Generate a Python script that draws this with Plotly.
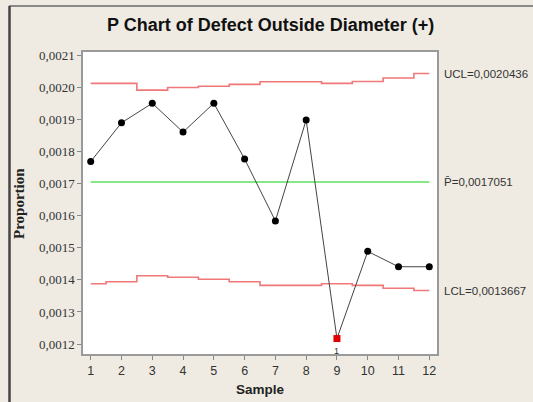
import plotly.graph_objects as go

samples = list(range(1, 13))
proportion = [0.001769, 0.001890, 0.001951, 0.001861, 0.001951, 0.001777,
              0.001584, 0.001899, 0.001217, 0.001489, 0.001441, 0.001441]
ucl = [0.002013, 0.002013, 0.001992, 0.002000, 0.002004, 0.002010,
       0.002018, 0.002018, 0.002013, 0.002019, 0.002030, 0.0020436]
lcl = [0.001388, 0.001394, 0.001413, 0.001408, 0.001402, 0.001394,
       0.001383, 0.001383, 0.001388, 0.001383, 0.001374, 0.0013667]
center = 0.0017051
failed = [9]
ucl_label = "UCL=0,0020436"
p_label = "P\u0304=0,0017051"
lcl_label = "LCL=0,0013667"
y_ticks = [0.0012, 0.0013, 0.0014, 0.0015, 0.0016, 0.0017, 0.0018, 0.0019, 0.0020, 0.0021]

# step x positions: segments centred on each sample, clipped at first/last
step_x = [samples[0]] + [s - 0.5 for s in samples[1:]] + [samples[-1]]
ucl_y = ucl + [ucl[-1]]
lcl_y = lcl + [lcl[-1]]

W, H = 533, 402
ml, mr, mt, mb = 83, 96, 52, 48
pw, ph = W - ml - mr, H - mt - mb

def px(x):
    return (x - ml) / pw

def py(y):
    return (H - mb - y) / ph

fig = go.Figure()
fig.add_trace(go.Scatter(x=step_x, y=ucl_y, mode="lines", line=dict(color="#f07878", width=1.6, shape="hv"), hoverinfo="skip"))
fig.add_trace(go.Scatter(x=step_x, y=lcl_y, mode="lines", line=dict(color="#f07878", width=1.6, shape="hv"), hoverinfo="skip"))
fig.add_trace(go.Scatter(x=[samples[0], samples[-1]], y=[center, center], mode="lines",
                         line=dict(color="#86e886", width=2), hoverinfo="skip"))
colors = ["#e00000" if s in failed else "black" for s in samples]
symbols = ["square" if s in failed else "circle" for s in samples]
fig.add_trace(go.Scatter(x=samples, y=proportion, mode="lines+markers",
                         line=dict(color="#444444", width=1),
                         marker=dict(color=colors, symbol=symbols, size=7)))

for s in failed:
    fig.add_annotation(x=s, y=proportion[s - 1], text="1", showarrow=False, yshift=-12,
                       font=dict(family="Liberation Sans", size=9, color="#333333"))

for val, lab in [(ucl[-1], ucl_label), (center, p_label), (lcl[-1], lcl_label)]:
    fig.add_annotation(x=1, xref="paper", xshift=5, y=val, yref="y", text=lab, showarrow=False,
                       xanchor="left", yanchor="middle",
                       font=dict(family="Liberation Sans", size=11.5, color="#333333"))

fig.add_annotation(x=px(270), y=py(25), xref="paper", yref="paper", text="<b>P Chart of Defect Outside Diameter (+)</b>",
                   showarrow=False, xanchor="center", yanchor="middle",
                   font=dict(family="Liberation Sans", size=18, color="#111111"))
fig.add_annotation(x=px(260), y=py(389), xref="paper", yref="paper", text="<b>Sample</b>",
                   showarrow=False, xanchor="center", yanchor="middle",
                   font=dict(family="Liberation Sans", size=13.5, color="#222222"))
fig.add_annotation(x=px(19), y=py(204), xref="paper", yref="paper", text="<b>Proportion</b>",
                   showarrow=False, xanchor="center", yanchor="middle", textangle=-90,
                   font=dict(family="Liberation Serif", size=15, color="#222222"))

# outer frame
fig.add_shape(type="line", xref="paper", yref="paper", x0=px(9), x1=px(533), y0=py(6), y1=py(6),
              line=dict(color="#8a8a8a", width=2))
fig.add_shape(type="line", xref="paper", yref="paper", x0=px(9.5), x1=px(9.5), y0=py(6), y1=py(402),
              line=dict(color="#444444", width=2.5))

fig.update_layout(
    width=W, height=H, margin=dict(l=ml, r=mr, t=mt, b=mb),
    paper_bgcolor="#efebe2", plot_bgcolor="white", showlegend=False,
    separators=",.",
)
fig.update_xaxes(range=[0.75, 12.25], tickvals=samples, ticks="outside", ticklen=4, tickcolor="#888888",
                 showgrid=False, zeroline=False, showline=True, linecolor="#9a9a9a", linewidth=1.5, mirror=True,
                 tickfont=dict(family="Liberation Sans", size=12.5, color="#333333"))
fig.update_yaxes(range=[0.0011688, 0.0021109], tickvals=y_ticks, tickformat=".4f", ticks="outside", ticklen=4,
                 tickcolor="#888888", showgrid=False, zeroline=False, showline=True, linecolor="#9a9a9a",
                 linewidth=1.5, mirror=True,
                 tickfont=dict(family="Liberation Serif", size=13, color="#333333"))

fig.write_html("out.html", config={"displayModeBar": False},
               post_script="document.body.style.margin='0';document.body.style.padding='0';document.body.style.overflow='hidden';")
